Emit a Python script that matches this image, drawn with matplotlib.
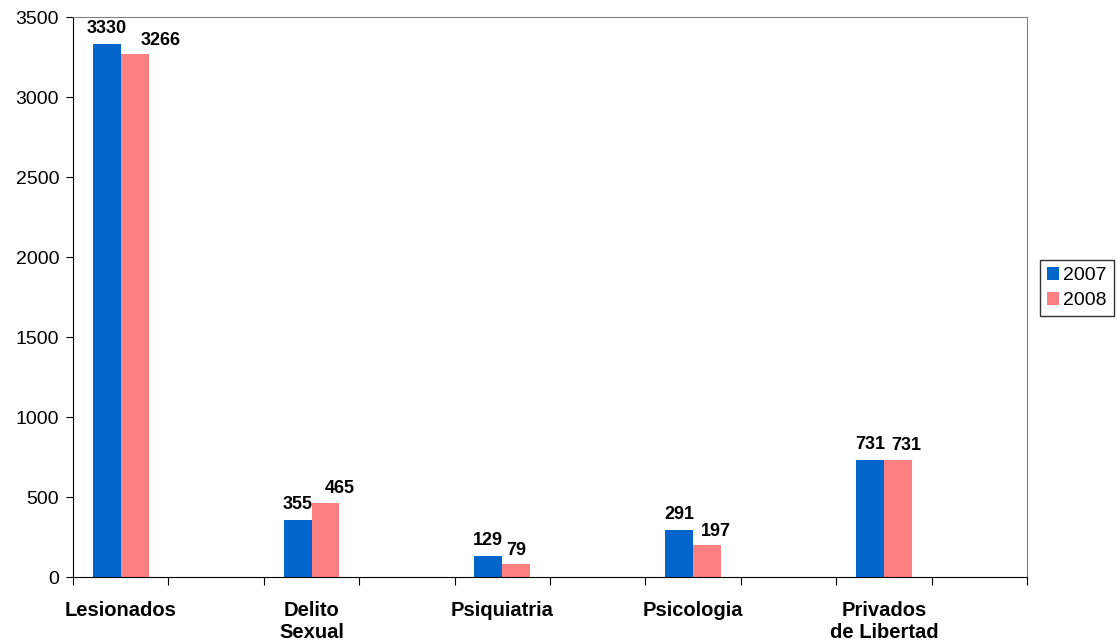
import numpy as np
import matplotlib
matplotlib.use("Agg")
from matplotlib import pyplot as plt

plt.rcParams["font.family"] = ["Liberation Sans", "DejaVu Sans"]

categories = ["Lesionados", "Delito\nSexual", "Psiquiatria", "Psicologia", "Privados\nde Libertad"]
v2007 = [3330, 355, 129, 291, 731]
v2008 = [3266, 465, 79, 197, 731]
label_shift = [19, 10, 0, 6, 6]  # points, to the right, for 2008 labels

blue = "#0066CC"
pink = "#FF8080"

fig = plt.figure(figsize=(11.17, 6.43), dpi=100)
ax = fig.add_axes([73 / 1117, 66 / 643, 954 / 1117, 560 / 643])

# excel chart has an empty slot between every category
x = np.arange(len(categories)) * 2 + 0.5
w = 0.293
b1 = ax.bar(x - w / 2, v2007, w, color=blue, label="2007")
b2 = ax.bar(x + w / 2, v2008, w, color=pink, label="2008")

for rect, v in zip(b1, v2007):
    ax.annotate(str(v), (rect.get_x() + rect.get_width() / 2, v), xytext=(0, 5),
                textcoords="offset points", ha="center", va="bottom",
                fontsize=13, fontweight="bold")
for rect, v, dx in zip(b2, v2008, label_shift):
    ax.annotate(str(v), (rect.get_x() + rect.get_width() / 2, v), xytext=(dx, 4),
                textcoords="offset points", ha="center", va="bottom",
                fontsize=13, fontweight="bold")

ax.set_xlim(0, 10)
ax.set_ylim(0, 3500)
ax.set_yticks(range(0, 3501, 500))
ax.set_xticks(range(0, 11))
ax.set_xticklabels([])
ax.set_xticks(x, minor=True)
ax.set_xticklabels(categories, minor=True, fontsize=14.5, fontweight="bold", linespacing=1.25)
ax.tick_params(axis="x", which="major", length=6, direction="out", color="black")
ax.tick_params(axis="x", which="minor", length=0, pad=17)
ax.tick_params(axis="y", length=5, labelsize=14, pad=5)

for s in ["top", "right"]:
    ax.spines[s].set_color("#808080")
for s in ["left", "bottom"]:
    ax.spines[s].set_color("black")

leg = fig.legend(loc="center left", bbox_to_anchor=(1040 / 1117, 1 - 288 / 643),
                 fontsize=14, frameon=True, fancybox=False, edgecolor="black",
                 handlelength=0.65, handleheight=0.65, handletextpad=0.2,
                 borderpad=0.35, labelspacing=0.4, borderaxespad=0)
leg.get_frame().set_linewidth(1)

fig.savefig("out.png", dpi=100)
